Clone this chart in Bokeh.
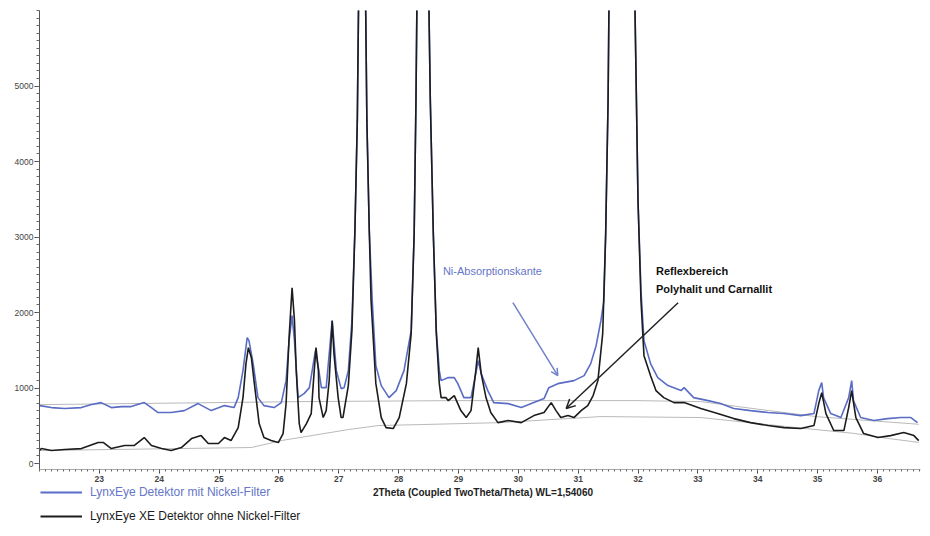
from bokeh.plotting import figure
from bokeh.layouts import column
from bokeh.models import (Range1d, FixedTicker, Legend, LegendItem, Label, Arrow,
                          OpenHead)
from bokeh.embed import file_html
from bokeh.resources import INLINE

# ---- data ----
black_x = [22.00, 22.03, 22.20, 22.42, 22.70, 22.98, 23.07, 23.20, 23.42, 23.58, 23.75, 23.87,
           24.04, 24.20, 24.37, 24.54, 24.70, 24.82, 24.99, 25.09, 25.20, 25.32, 25.40, 25.45,
           25.49, 25.54, 25.59, 25.67, 25.75, 25.87, 25.99, 26.07, 26.12, 26.17, 26.22, 26.26,
           26.29, 26.34, 26.37, 26.46, 26.54, 26.59, 26.62, 26.66, 26.67, 26.74, 26.79, 26.84,
           26.89, 26.92, 26.99, 27.04, 27.07, 27.16, 27.22, 27.27, 27.31, 27.35, 27.39, 27.43,
           27.47, 27.51, 27.54, 27.62, 27.71, 27.79, 27.91, 28.01, 28.13, 28.21, 28.26, 28.29,
           28.33, 28.40, 28.47, 28.53, 28.58, 28.63, 28.68, 28.71, 28.79, 28.83, 28.93, 29.04,
           29.13, 29.21, 29.29, 29.33, 29.38, 29.46, 29.54, 29.66, 29.83, 30.05, 30.26, 30.43,
           30.55, 30.63, 30.71, 30.83, 30.93, 31.05, 31.16, 31.25, 31.33, 31.41, 31.46, 31.50,
           31.52, 31.73, 31.94, 32.00, 32.05, 32.10, 32.21, 32.30, 32.43, 32.60, 32.77, 33.05,
           33.33, 33.60, 33.88, 34.17, 34.44, 34.72, 34.94, 35.02, 35.07, 35.14, 35.27, 35.44,
           35.52, 35.57, 35.64, 35.77, 36.01, 36.22, 36.44, 36.61, 36.69]
black_y = [172, 198, 172, 185, 198, 278, 278, 198, 238, 238, 344, 238,
           198, 172, 212, 331, 370, 265, 265, 344, 304, 476, 873, 1323,
           1535, 1402, 1058, 529, 344, 304, 278, 397, 794, 1667, 2328, 1892,
           1230, 529, 410, 529, 662, 1230, 1535, 1230, 873, 609, 701, 1098,
           1892, 1455, 873, 609, 609, 1032, 1760, 3083, 4538, 7500, 11000, 7500,
           4538, 3083, 2156, 1058, 609, 476, 463, 609, 1058, 1720, 3043, 4802,
           8000, 12000, 8000, 4802, 3043, 1720, 1058, 873, 873, 833, 900, 701,
           609, 701, 1230, 1535, 1191, 873, 675, 542, 569, 542, 635, 675,
           807, 701, 609, 635, 609, 701, 767, 900, 1098, 1720, 3043, 4802,
           6500, 20000, 6500, 3480, 2156, 1429, 1164, 966, 873, 807, 807, 728,
           662, 595, 542, 503, 476, 463, 503, 794, 939, 662, 437, 437,
           741, 966, 609, 397, 344, 370, 410, 370, 304]

blue_x = [22.00, 22.20, 22.42, 22.70, 22.87, 23.03, 23.20, 23.37, 23.53, 23.75, 23.87, 23.98,
          24.20, 24.42, 24.65, 24.87, 25.09, 25.25, 25.32, 25.40, 25.47, 25.50, 25.57, 25.65,
          25.75, 25.92, 26.04, 26.12, 26.17, 26.22, 26.26, 26.32, 26.42, 26.51, 26.61, 26.66,
          26.71, 26.79, 26.89, 26.96, 27.04, 27.09, 27.16, 27.22, 27.27, 27.31, 27.35, 27.39,
          27.43, 27.47, 27.51, 27.56, 27.62, 27.71, 27.84, 27.96, 28.09, 28.21, 28.26, 28.29,
          28.33, 28.40, 28.47, 28.53, 28.58, 28.63, 28.68, 28.71, 28.83, 28.93, 28.99, 29.09,
          29.21, 29.29, 29.33, 29.38, 29.49, 29.59, 29.83, 30.05, 30.26, 30.43, 30.51, 30.66,
          30.93, 31.10, 31.21, 31.30, 31.38, 31.43, 31.46, 31.50, 31.52, 31.73, 31.94, 32.00,
          32.05, 32.10, 32.21, 32.33, 32.50, 32.72, 32.77, 32.93, 33.17, 33.38, 33.60, 33.88,
          34.17, 34.44, 34.72, 34.94, 35.02, 35.07, 35.10, 35.22, 35.39, 35.52, 35.57, 35.60,
          35.72, 35.94, 36.17, 36.39, 36.56, 36.67]
blue_y = [767, 741, 728, 741, 781, 807, 741, 754, 754, 807, 741, 675,
          675, 701, 794, 701, 767, 741, 873, 1230, 1667, 1627, 1323, 873,
          767, 741, 807, 1098, 1627, 1958, 1627, 873, 926, 1005, 1495, 1270,
          1005, 1005, 1892, 1230, 992, 1005, 1230, 1892, 3083, 4538, 7500, 11000,
          7500, 4538, 3083, 2156, 1297, 1032, 873, 966, 1230, 1760, 3043, 4802,
          8000, 12000, 8000, 4802, 3043, 1760, 1230, 1098, 1138, 1138, 1058, 873,
          873, 1191, 1363, 1191, 966, 807, 794, 741, 807, 860, 1005, 1058,
          1098, 1164, 1323, 1561, 1892, 2156, 3043, 4802, 6500, 20000, 6500, 3480,
          2289, 1627, 1323, 1138, 1032, 966, 1005, 873, 833, 794, 728, 701,
          675, 662, 635, 662, 966, 1072, 873, 662, 609, 873, 1098, 833,
          609, 569, 595, 609, 609, 542]

black_bg_x = [22.00, 25.54, 26.04, 27.16, 27.66, 28.38, 29.71, 31.38, 33.05, 34.72, 35.60, 36.20, 36.69]
black_bg_y = [172, 212, 304, 450, 503, 516, 542, 622, 609, 470, 400, 330, 280]

blue_bg_x = [22.00, 26.37, 28.88, 32.00, 33.05, 34.00, 35.00, 36.69]
blue_bg_y = [780, 820, 833, 833, 820, 720, 620, 520]

x_ticks = [23, 24, 25, 26, 27, 28, 29, 30, 31, 32, 33, 34, 35, 36]
y_ticks = [0, 1000, 2000, 3000, 4000, 5000]

label_blue = "LynxEye Detektor mit Nickel-Filter"
label_black = "LynxEye XE Detektor ohne Nickel-Filter"
x_title = "2Theta (Coupled TwoTheta/Theta) WL=1,54060"

BLUE = "#5a6cc4"
BLUE_TXT = "#6676c8"
BLACK = "#1c1c1c"
BG = "#b9b9b9"
FONT = "Liberation Sans"

W = 928
p = figure(width=W, height=486, output_backend="svg", toolbar_location=None,
           x_range=Range1d(22.0, 36.72), y_range=Range1d(-79, 6000),
           min_border_left=39, min_border_right=8, min_border_top=10, min_border_bottom=17)
p.outline_line_color = None
p.xgrid.visible = False
p.ygrid.visible = False

p.line(blue_bg_x, blue_bg_y, color=BG, line_width=1)
p.line(black_bg_x, black_bg_y, color=BG, line_width=1)
rb = p.line(blue_x, blue_y, color=BLUE, line_width=1.6)
rk = p.line(black_x, black_y, color=BLACK, line_width=1.6)

# axes
xa = p.xaxis[0]
xa.ticker = FixedTicker(ticks=x_ticks,
                        minor_ticks=[22 + i * 0.1 for i in range(148)])
xa.axis_line_color = "#aaaaaa"
xa.major_tick_line_color = "#444444"
xa.major_tick_out = 4
xa.major_tick_in = 0
xa.minor_tick_line_color = "#666666"
xa.minor_tick_out = 2
xa.minor_tick_in = 0
xa.major_label_text_font = FONT
xa.major_label_text_font_size = "8.5px"
xa.major_label_text_font_style = "bold"
xa.major_label_text_color = "#444444"
xa.major_label_standoff = 2

ya = p.yaxis[0]
ya.ticker = FixedTicker(ticks=y_ticks, minor_ticks=[i * 100 for i in range(61)])
ya.axis_line_color = "#555555"
ya.major_tick_line_color = "#444444"
ya.major_tick_out = 5
ya.major_tick_in = 0
ya.minor_tick_line_color = "#666666"
ya.minor_tick_out = 3
ya.minor_tick_in = 0
ya.major_label_text_font = FONT
ya.major_label_text_font_size = "8.5px"
ya.major_label_text_color = "#444444"
ya.major_label_standoff = 1

# annotations
p.add_layout(Label(x=28.74, y=2553, text="Ni-Absorptionskante", text_baseline="middle",
                   text_font=FONT, text_font_size="11px", text_color=BLUE_TXT))
p.add_layout(Label(x=32.30, y=2553, text="Reflexbereich", text_baseline="middle",
                   text_font=FONT, text_font_size="11px", text_font_style="bold",
                   text_color="#111111"))
p.add_layout(Label(x=32.30, y=2315, text="Polyhalit und Carnallit", text_baseline="middle",
                   text_font=FONT, text_font_size="11px", text_font_style="bold",
                   text_color="#111111"))
p.add_layout(Arrow(x_start=29.91, y_start=2130, x_end=30.66, y_end=1164,
                   line_color="#7282c8", line_width=1.5,
                   end=OpenHead(size=7, line_color="#7282c8", line_width=1.5)))
p.add_layout(Arrow(x_start=32.67, y_start=2130, x_end=30.80, y_end=728,
                   line_color="#222222", line_width=1.5,
                   end=OpenHead(size=9, line_color="#222222", line_width=1.5)))

# ---- bottom strip: legend entries and x-axis title (shares the x scale) ----
H2 = 48
q = figure(width=W, height=H2, output_backend="svg", toolbar_location=None,
           x_range=p.x_range, y_range=Range1d(0, H2), min_border=0,
           x_axis_location=None, y_axis_location=None)
q.outline_line_color = None
q.xgrid.visible = False
q.ygrid.visible = False
# same series, outside this strip's visible range: only their legend swatches show
lb = q.line(blue_x, blue_y, color=BLUE, line_width=2)
lk = q.line(black_x, black_y, color=BLACK, line_width=2)


def make_legend(label, r, color, loc):
    return Legend(items=[LegendItem(label=label, renderers=[r])], location=loc,
                  orientation="vertical", padding=0, margin=0, spacing=0,
                  glyph_width=42, glyph_height=22, label_height=22, label_standoff=8,
                  label_text_font=FONT, label_text_font_size="12px",
                  label_text_color=color, border_line_color=None,
                  background_fill_alpha=0)


q.add_layout(make_legend(label_blue, lb, BLUE_TXT, (1, 31)))
q.add_layout(make_legend(label_black, lk, BLACK, (1, 7)))
q.add_layout(Label(x=29.41, y=42, text=x_title, text_align="center",
                   text_baseline="middle", text_font=FONT, text_font_size="10px",
                   text_font_style="bold", text_color="#222222"))

layout = column(p, q, spacing=0)
open("out.html", "w").write(file_html(layout, INLINE))
